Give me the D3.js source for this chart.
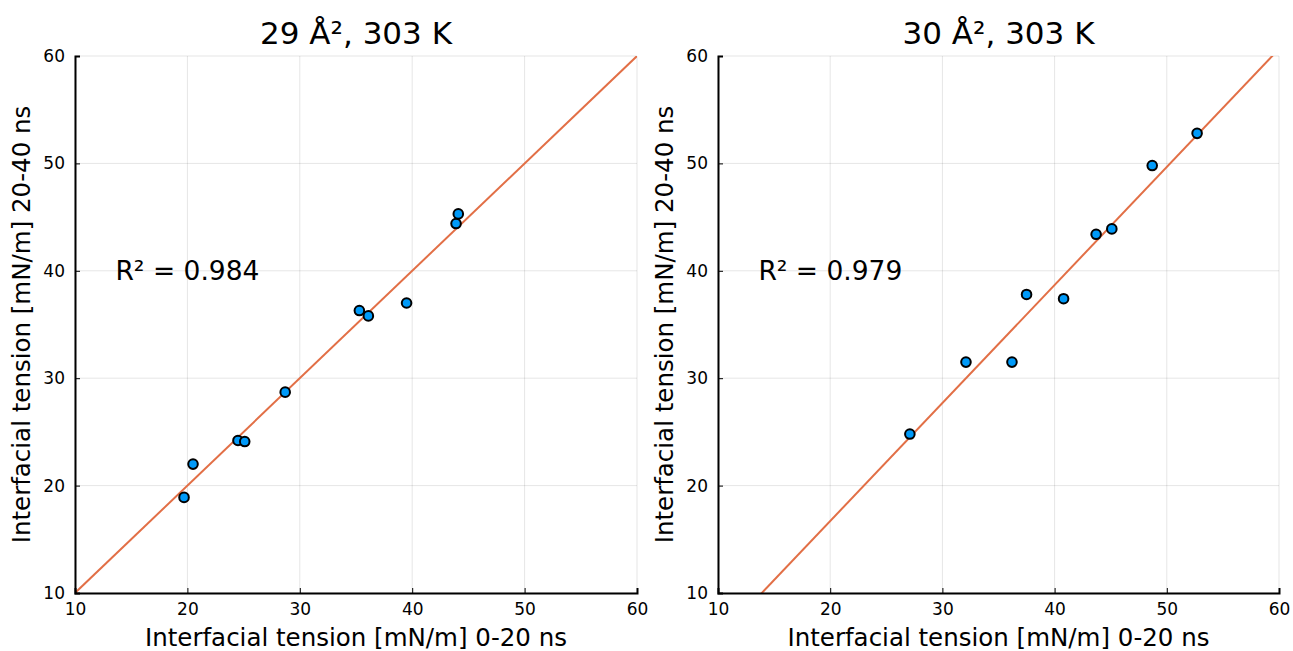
<!DOCTYPE html>
<html>
<head>
<meta charset="utf-8">
<script src="https://cdn.jsdelivr.net/npm/d3@7"></script>
<style>
  body { margin: 0; background: #fff; }
  svg { font-family: "DejaVu Sans", sans-serif; }
</style>
</head>
<body>
<div id="chart"></div>
<script>
// Panel titles and annotations
var titles = ["29 Å², 303 K", "30 Å², 303 K"],
  r2Labels = ["R² = 0.984", "R² = 0.979"];

// 0-20 ns vs 20-40 ns interfacial tension, 29 Å²
var xs29 = [19.7, 20.5, 24.5, 25.1, 28.7, 35.3, 36.1, 39.5, 43.9, 44.1],
  ys29 = [18.9, 22.0, 24.2, 24.1, 28.7, 36.3, 35.8, 37.0, 44.4, 45.3];

// 30 Å²
var xs30 = [27.1, 32.1, 36.2, 37.5, 40.8, 43.7, 45.1, 48.7, 52.7],
  ys30 = [24.8, 31.5, 31.5, 37.8, 37.4, 43.4, 43.9, 49.8, 52.8];

// fitted lines (slope, intercept)
var fits = [[1.0, 0.0], [1.099, -5.28]];

var ticks = [10, 20, 30, 40, 50, 60];

var width = 1293,
  height = 651,
  panels = [
    { left: 75, right: 637, xs: xs29, ys: ys29 },
    { left: 718, right: 1279, xs: xs30, ys: ys30 }
  ],
  plotTop = 56,
  plotBottom = 593;

var svg = d3.select("#chart").append("svg")
  .attr("width", width)
  .attr("height", height);

panels.forEach(function (p, k) {
  var x = d3.scaleLinear().domain([10, 60]).range([p.left, p.right]),
    y = d3.scaleLinear().domain([10, 60]).range([plotBottom, plotTop]),
    g = svg.append("g");

  // grid
  g.selectAll(".gx").data(ticks).enter().append("line")
    .attr("x1", d => x(d)).attr("x2", d => x(d))
    .attr("y1", plotTop).attr("y2", plotBottom)
    .attr("stroke", "#000").attr("stroke-opacity", 0.1).attr("stroke-width", 1);
  g.selectAll(".gy").data(ticks).enter().append("line")
    .attr("y1", d => y(d)).attr("y2", d => y(d))
    .attr("x1", p.left).attr("x2", p.right)
    .attr("stroke", "#000").attr("stroke-opacity", 0.1).attr("stroke-width", 1);

  // clip for the fit line
  var clipId = "clip" + k;
  svg.append("clipPath").attr("id", clipId)
    .append("rect")
    .attr("x", p.left).attr("y", plotTop)
    .attr("width", p.right - p.left).attr("height", plotBottom - plotTop);

  var f = fits[k],
    lineData = [10, 60].map(v => [v, f[0] * v + f[1]]);
  g.append("path")
    .attr("clip-path", "url(#" + clipId + ")")
    .attr("d", d3.line().x(d => x(d[0])).y(d => y(d[1]))(lineData))
    .attr("stroke", "#e26f46")
    .attr("stroke-width", 2)
    .attr("fill", "none");

  // points
  g.selectAll("circle").data(p.xs).enter().append("circle")
    .attr("cx", d => x(d))
    .attr("cy", (d, i) => y(p.ys[i]))
    .attr("r", 4.8)
    .attr("fill", "#009af9")
    .attr("stroke", "#000")
    .attr("stroke-width", 2);

  // axes
  var xAxis = g.append("g")
    .attr("transform", "translate(0," + plotBottom + ")")
    .call(d3.axisBottom(x).tickValues(ticks).tickSize(-5).tickPadding(8));
  var yAxis = g.append("g")
    .attr("transform", "translate(" + p.left + ",0)")
    .call(d3.axisLeft(y).tickValues(ticks).tickSize(-5).tickPadding(10));
  [xAxis, yAxis].forEach(function (a) {
    a.select(".domain").attr("stroke", "#000").attr("stroke-width", 2);
    a.selectAll(".tick line").attr("stroke", "#000").attr("stroke-width", 1);
    a.selectAll(".tick text")
      .style("font-family", "DejaVu Sans, sans-serif")
      .style("font-size", "17px")
      .attr("fill", "#000");
  });
  xAxis.selectAll(".tick text").attr("dy", "0.85em");

  // title
  g.append("text")
    .attr("x", (p.left + p.right) / 2)
    .attr("y", 44)
    .attr("text-anchor", "middle")
    .style("font-size", "31px")
    .text(titles[k]);

  // axis labels
  g.append("text")
    .attr("x", (p.left + p.right) / 2)
    .attr("y", 646)
    .attr("text-anchor", "middle")
    .style("font-size", "24.5px")
    .text("Interfacial tension [mN/m] 0-20 ns");
  g.append("text")
    .attr("transform", "translate(" + (p.left - 45) + "," + ((plotTop + plotBottom) / 2) + ") rotate(-90)")
    .attr("text-anchor", "middle")
    .style("font-size", "24.5px")
    .text("Interfacial tension [mN/m] 20-40 ns");

  // R² annotation
  g.append("text")
    .attr("x", x(13.6))
    .attr("y", y(40) + 9)
    .style("font-size", "26.5px")
    .text(r2Labels[k]);
});
</script>
</body>
</html>
